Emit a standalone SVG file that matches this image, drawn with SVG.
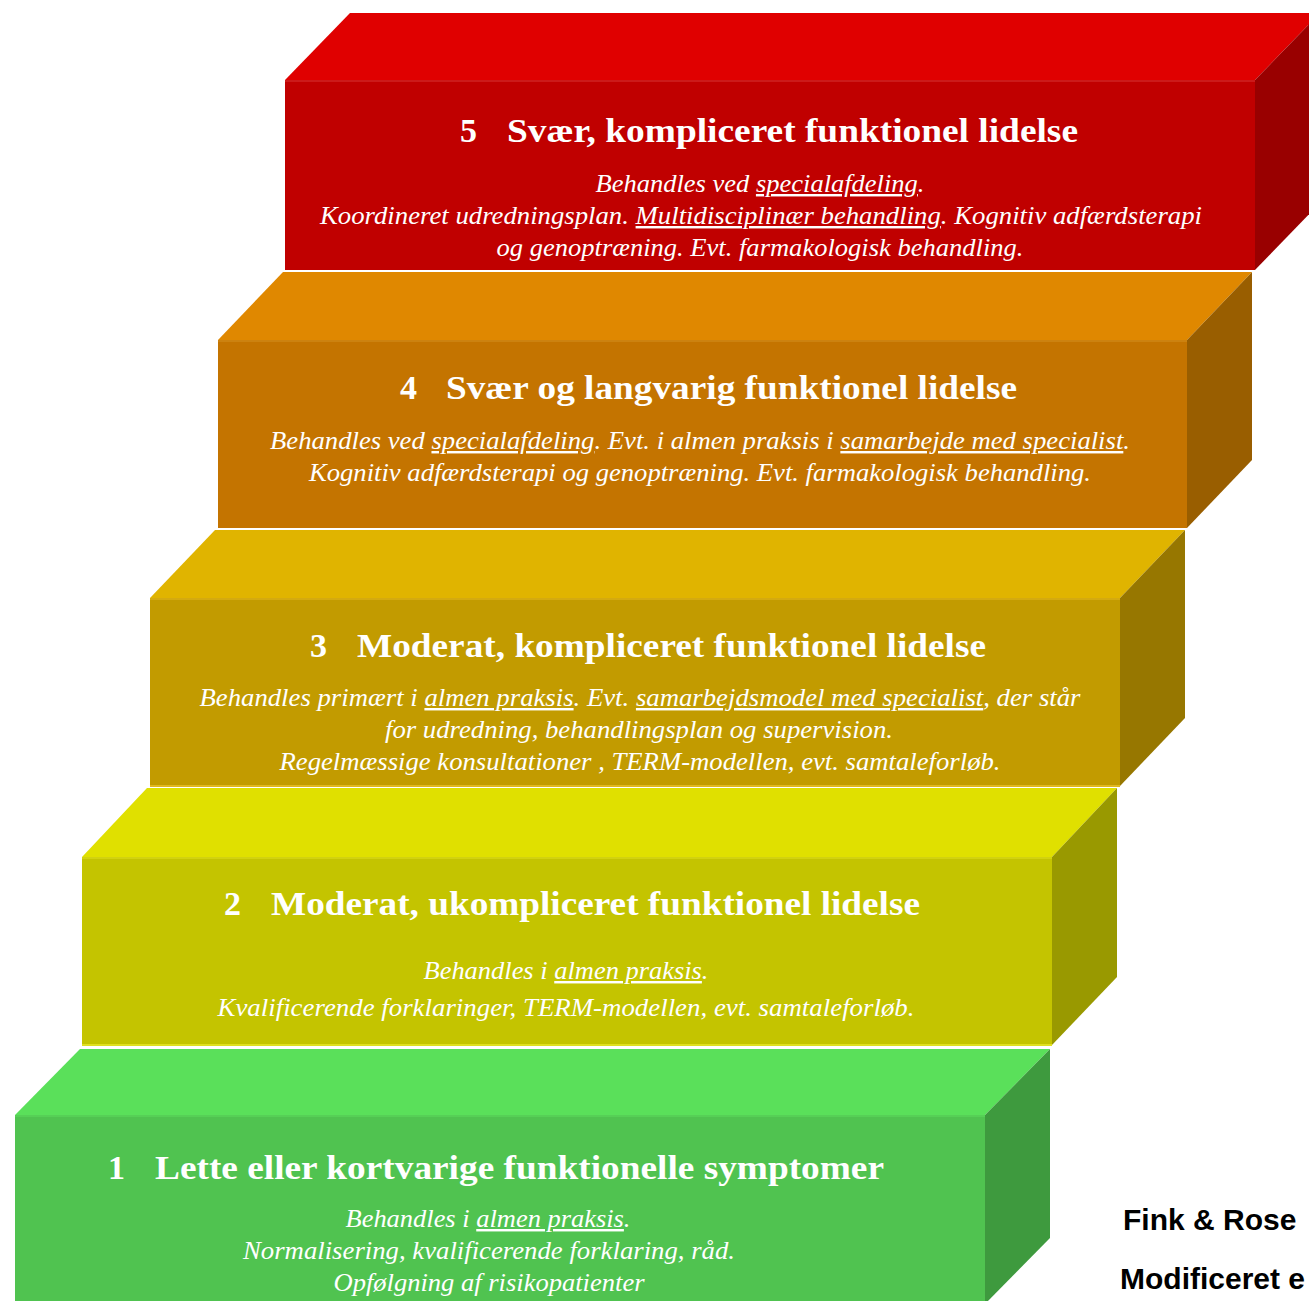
<svg xmlns="http://www.w3.org/2000/svg" width="1309" height="1301" viewBox="0 0 1309 1301">
<style>
.title{font-family:"Liberation Serif","Times New Roman",serif;font-weight:bold;font-size:34px;fill:#fff}
.body{font-family:"Liberation Serif","Times New Roman",serif;font-style:italic;font-size:24.5px;fill:#fff;text-anchor:middle}
.u{text-decoration:underline}
.credit{font-family:"Liberation Sans",Arial,sans-serif;font-weight:bold;font-size:30px;fill:#000}
.edge{stroke-width:2;fill:none}
</style>
<rect width="1309" height="1301" fill="#fff"/>

<g id="step5">
<polygon points="285,80 350,13 1320,13 1255,80" fill="#E00000"/>
<rect x="285" y="80" width="970" height="190" fill="#C00000"/>
<polygon points="1255,80 1320,13 1320,203 1255,270" fill="#990000"/>
<line class="edge" x1="285" y1="81" x2="1255" y2="81" stroke="#CC1a1a"/>
<text class="title" x="460" y="142">5</text>
<text class="title" x="507" y="142" textLength="571" lengthAdjust="spacingAndGlyphs">Svær, kompliceret funktionel lidelse</text>
<text class="body" x="760" y="192" textLength="329" lengthAdjust="spacingAndGlyphs">Behandles ved <tspan class="u" text-decoration="underline">specialafdeling</tspan>.</text>
<text class="body" x="761" y="224" textLength="882" lengthAdjust="spacingAndGlyphs">Koordineret udredningsplan. <tspan class="u" text-decoration="underline">Multidisciplinær behandling</tspan>. Kognitiv adfærdsterapi</text>
<text class="body" x="760" y="256" textLength="527" lengthAdjust="spacingAndGlyphs">og genoptræning. Evt. farmakologisk behandling.</text>
</g>

<g id="step4">
<polygon points="218,340 283,272 1252,272 1187,340" fill="#E08800"/>
<rect x="218" y="340" width="969" height="188" fill="#C47400"/>
<polygon points="1187,340 1252,272 1252,460 1187,528" fill="#995E00"/>
<line class="edge" x1="218" y1="341" x2="1187" y2="341" stroke="#CC8210"/>
<text class="title" x="400" y="399">4</text>
<text class="title" x="446" y="399" textLength="571" lengthAdjust="spacingAndGlyphs">Svær og langvarig funktionel lidelse</text>
<text class="body" x="700" y="449" textLength="860" lengthAdjust="spacingAndGlyphs">Behandles ved <tspan class="u" text-decoration="underline">specialafdeling</tspan>. Evt. i almen praksis i <tspan class="u" text-decoration="underline">samarbejde med specialist</tspan>.</text>
<text class="body" x="700" y="481" textLength="782" lengthAdjust="spacingAndGlyphs">Kognitiv adfærdsterapi og genoptræning. Evt. farmakologisk behandling.</text>
</g>

<g id="step3">
<polygon points="150,598 215,530 1185,530 1120,598" fill="#E0B400"/>
<rect x="150" y="598" width="970" height="188" fill="#C29B00"/>
<polygon points="1120,598 1185,530 1185,718 1120,786" fill="#977700"/>
<line class="edge" x1="150" y1="599" x2="1120" y2="599" stroke="#D4AA10"/>
<line class="edge" x1="150" y1="786" x2="1120" y2="786" stroke="#E0B820"/>
<text class="title" x="310" y="657">3</text>
<text class="title" x="357" y="657" textLength="629" lengthAdjust="spacingAndGlyphs">Moderat, kompliceret funktionel lidelse</text>
<text class="body" x="640" y="706" textLength="881" lengthAdjust="spacingAndGlyphs">Behandles primært i <tspan class="u" text-decoration="underline">almen praksis</tspan>. Evt. <tspan class="u" text-decoration="underline">samarbejdsmodel med specialist</tspan>, der står</text>
<text class="body" x="639" y="738" textLength="508" lengthAdjust="spacingAndGlyphs">for udredning, behandlingsplan og supervision.</text>
<text class="body" x="640" y="770" textLength="721" lengthAdjust="spacingAndGlyphs">Regelmæssige konsultationer , TERM-modellen, evt. samtaleforløb.</text>
</g>

<g id="step2">
<polygon points="82,857 147,788 1117,788 1052,857" fill="#E0E000"/>
<rect x="82" y="857" width="970" height="188" fill="#C4C400"/>
<polygon points="1052,857 1117,788 1117,977 1052,1045" fill="#999900"/>
<line class="edge" x1="82" y1="858" x2="1052" y2="858" stroke="#D2D210"/>
<line class="edge" x1="82" y1="1045" x2="1052" y2="1045" stroke="#E0E020"/>
<text class="title" x="224" y="915">2</text>
<text class="title" x="271" y="915" textLength="649" lengthAdjust="spacingAndGlyphs">Moderat, ukompliceret funktionel lidelse</text>
<text class="body" x="566" y="979" textLength="285" lengthAdjust="spacingAndGlyphs">Behandles i <tspan class="u" text-decoration="underline">almen praksis</tspan>.</text>
<text class="body" x="566" y="1016" textLength="697" lengthAdjust="spacingAndGlyphs">Kvalificerende forklaringer, TERM-modellen, evt. samtaleforløb.</text>
</g>

<g id="step1">
<polygon points="15,1115 80,1049 1050,1049 985,1115" fill="#5AE05A"/>
<rect x="15" y="1115" width="970" height="190" fill="#50C350"/>
<polygon points="985,1115 1050,1049 1050,1238 985,1304" fill="#3E9A3E"/>
<line class="edge" x1="15" y1="1116" x2="985" y2="1116" stroke="#56D056"/>
<text class="title" x="108" y="1179">1</text>
<text class="title" x="155" y="1179" textLength="729" lengthAdjust="spacingAndGlyphs">Lette eller kortvarige funktionelle symptomer</text>
<text class="body" x="488" y="1227" textLength="285" lengthAdjust="spacingAndGlyphs">Behandles i <tspan class="u" text-decoration="underline">almen praksis</tspan>.</text>
<text class="body" x="489" y="1259" textLength="492" lengthAdjust="spacingAndGlyphs">Normalisering, kvalificerende forklaring, råd.</text>
<text class="body" x="489" y="1291" textLength="311" lengthAdjust="spacingAndGlyphs">Opfølgning af risikopatienter</text>
</g>

<g id="connectors"></g>

<g id="credit">
<text class="credit" x="1123" y="1230">Fink &amp; Rose</text>
<text class="credit" x="1120" y="1289">Modificeret e</text>
</g>
</svg>
